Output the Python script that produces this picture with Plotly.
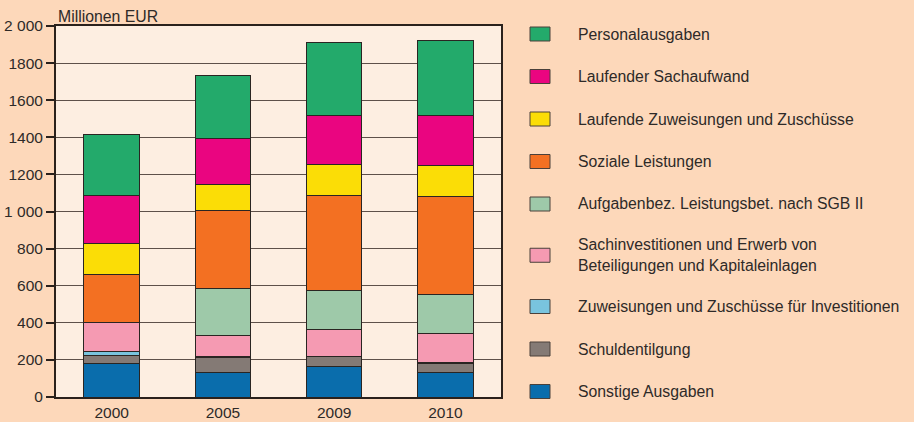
import plotly.graph_objects as go

years = ["2000", "2005", "2009", "2010"]

# stacked from bottom to top
series_names = [
    "Sonstige Ausgaben",
    "Schuldentilgung",
    "Zuweisungen und Zuschüsse für Investitionen",
    "Sachinvestitionen und Erwerb von<br>Beteiligungen und Kapitaleinlagen",
    "Aufgabenbez. Leistungsbet. nach SGB II",
    "Soziale Leistungen",
    "Laufende Zuweisungen und Zuschüsse",
    "Laufender Sachaufwand",
    "Personalausgaben",
]
sonstige = [180, 130, 164, 130]
schuldentilgung = [45, 81, 52, 50]
zuweisungen_inv = [18, 5, 4, 5]
sachinvestitionen = [157, 117, 142, 159]
aufgabenbez = [0, 253, 213, 206]
soziale = [263, 419, 510, 529]
laufende_zuw = [162, 141, 170, 167]
sachaufwand = [263, 248, 265, 274]
personal = [326, 340, 392, 403]
series_values = [sonstige, schuldentilgung, zuweisungen_inv, sachinvestitionen,
                 aufgabenbez, soziale, laufende_zuw, sachaufwand, personal]
colors = ["#0a6dac", "#847a75", "#79c4de", "#f59ab2", "#9ec9a9",
          "#f37022", "#fbdd06", "#ea0580", "#23aa6b"]

y_ticks = [0, 200, 400, 600, 800, 1000, 1200, 1400, 1600, 1800, 2000]
y_ticktext = ["0", "200", "400", "600", "800", "1 000", "1200", "1400", "1600", "1800", "2 000"]

FONT = "Liberation Sans, Arial, sans-serif"
TEXT = "#2e2a28"
W, H = 914, 422
L, R, T, B = 56, 413, 26, 25

fig = go.Figure()
for name, vals, col in zip(series_names, series_values, colors):
    fig.add_trace(go.Bar(
        x=years, y=vals, name=name, showlegend=False,
        marker=dict(color=col, line=dict(color="#2a2522", width=1)),
    ))

# hand-drawn legend on the right, top item = top of stack
plot_w = W - L - R
plot_h = H - T - B
y_px = 34
for name, col in zip(series_names[::-1], colors[::-1]):
    half = name.count("<br>") * 8.75
    y_px += half
    py = 1 - (y_px - T) / plot_h
    fig.add_shape(type="rect", xref="paper", yref="paper",
                  x0=(530 - L) / plot_w, x1=(550 - L) / plot_w,
                  y0=py - 7 / plot_h, y1=py + 7 / plot_h,
                  fillcolor=col, line=dict(color="#4a403a", width=1))
    fig.add_annotation(text=name, xref="paper", yref="paper",
                       x=(576 - L) / plot_w, y=py, xanchor="left", yanchor="middle",
                       align="left", showarrow=False,
                       font=dict(family=FONT, size=15.8, color=TEXT))
    y_px += half + 42.5

fig.add_annotation(text="Millionen EUR", xref="paper", yref="paper",
                   x=0, y=1, xanchor="left", yanchor="bottom", yshift=-1,
                   showarrow=False, font=dict(family=FONT, size=15.8, color=TEXT))

fig.update_layout(
    width=W, height=H,
    barmode="stack", bargap=0.5,
    paper_bgcolor="#fdd8ba", plot_bgcolor="#fdeee1",
    margin=dict(l=L, r=R, t=T, b=B, autoexpand=False),
    font=dict(family=FONT, size=15.5, color=TEXT),
    showlegend=False,
)
fig.update_xaxes(showline=True, linecolor="#2a211c", linewidth=2, mirror=True,
                 ticks="", showgrid=False, automargin=False)
fig.update_yaxes(range=[0, 2000], tickvals=y_ticks, ticktext=y_ticktext,
                 showline=True, linecolor="#2a211c", linewidth=2, mirror=True,
                 ticks="outside", ticklen=8, tickcolor="#2a211c", tickwidth=1.5,
                 showgrid=True, gridcolor="#5e5049", gridwidth=1.2,
                 zeroline=False, automargin=False)

fig.write_html("out.html", config={"displayModeBar": False},
               post_script="document.body.style.margin = '0';")
